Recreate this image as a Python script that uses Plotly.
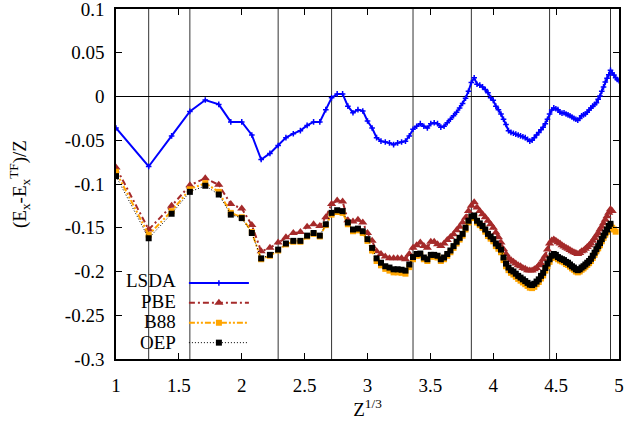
import numpy as np
import plotly.graph_objects as go

# Exchange energy relative to Thomas-Fermi, per electron, vs Z^(1/3)
lsda = [-0.036, -0.080, -0.045, -0.017, -0.004, -0.009, -0.029, -0.029, -0.044, -0.072,
        -0.065, -0.056, -0.047, -0.0425, -0.039, -0.033, -0.029, -0.029, -0.015, -0.0015,
        0.003, 0.003, -0.011, -0.0185, -0.015, -0.0165, -0.028, -0.036, -0.047, -0.051,
        -0.052, -0.053, -0.055, -0.053, -0.052, -0.051, -0.045, -0.0375, -0.034, -0.031,
        -0.034, -0.036, -0.031, -0.030, -0.031, -0.035, -0.034, -0.030, -0.026, -0.022,
        -0.018, -0.013, -0.008, -0.002, 0.006, 0.016, 0.0215, 0.014, 0.013, 0.011,
        0.008, 0.0044, -0.0013, -0.0044, -0.011, -0.015, -0.020, -0.026, -0.032, -0.039,
        -0.041, -0.042, -0.043, -0.044, -0.045, -0.046, -0.047, -0.049, -0.051, -0.050,
        -0.047, -0.044, -0.041, -0.038, -0.035, -0.031, -0.026, -0.020, -0.0155, -0.013,
        -0.014, -0.015, -0.018, -0.019, -0.0185, -0.020, -0.021, -0.022, -0.0235, -0.025,
        -0.026, -0.027, -0.025, -0.022, -0.021, -0.020, -0.018, -0.0155, -0.013, -0.011,
        -0.009, -0.007, -0.003, 0.0006, 0.006, 0.011, 0.0165, 0.021, 0.025, 0.030,
        0.027, 0.0245, 0.0215, 0.0195, 0.018]

pbe = [-0.081, -0.152, -0.125, -0.1015, -0.0935, -0.101, -0.123, -0.128, -0.147, -0.177,
       -0.173, -0.167, -0.161, -0.156, -0.155, -0.149, -0.146, -0.148, -0.138, -0.123,
       -0.119, -0.120, -0.1415, -0.143, -0.141, -0.144, -0.156, -0.165, -0.177, -0.180,
       -0.183, -0.185, -0.185, -0.185, -0.185, -0.186, -0.180, -0.173, -0.170, -0.167,
       -0.171, -0.173, -0.166, -0.166, -0.169, -0.171, -0.168, -0.164, -0.1605, -0.1575,
       -0.153, -0.149, -0.144, -0.1385, -0.131, -0.125, -0.121, -0.127, -0.131, -0.1345,
       -0.138, -0.142, -0.146, -0.150, -0.1555, -0.161, -0.167, -0.1745, -0.180, -0.185,
       -0.187, -0.189, -0.191, -0.193, -0.194, -0.196, -0.197, -0.1985, -0.199, -0.199,
       -0.1975, -0.196, -0.193, -0.191, -0.186, -0.182, -0.175, -0.168, -0.1645, -0.1635,
       -0.165, -0.1665, -0.168, -0.170, -0.1715, -0.173, -0.174, -0.1755, -0.177, -0.178,
       -0.179, -0.180, -0.179, -0.177, -0.176, -0.174, -0.172, -0.170, -0.168, -0.165,
       -0.162, -0.159, -0.156, -0.152, -0.149, -0.145, -0.141, -0.137, -0.133, -0.129,
       -0.131]

b88 = [-0.086, -0.158, -0.131, -0.106, -0.099, -0.109, -0.133, -0.138, -0.155, -0.186,
       -0.182, -0.176, -0.169, -0.166, -0.166, -0.160, -0.157, -0.160, -0.147, -0.135,
       -0.132, -0.133, -0.146, -0.154, -0.153, -0.156, -0.165, -0.176, -0.188, -0.193,
       -0.197, -0.199, -0.201, -0.201, -0.2015, -0.2025, -0.195, -0.186, -0.182, -0.1815,
       -0.186, -0.188, -0.183, -0.183, -0.184, -0.188, -0.186, -0.182, -0.178, -0.173,
       -0.168, -0.1635, -0.159, -0.152, -0.144, -0.139, -0.138, -0.144, -0.147, -0.150,
       -0.1545, -0.1595, -0.1625, -0.1655, -0.171, -0.174, -0.178, -0.187, -0.194, -0.1985,
       -0.2015, -0.2035, -0.206, -0.2085, -0.2105, -0.2125, -0.2145, -0.2165, -0.2185, -0.219,
       -0.2175, -0.2145, -0.212, -0.208, -0.2045, -0.199, -0.194, -0.189, -0.1845, -0.1825,
       -0.1835, -0.186, -0.1875, -0.1885, -0.1895, -0.1915, -0.1925, -0.1945, -0.1965, -0.198,
       -0.200, -0.201, -0.200, -0.198, -0.1965, -0.1945, -0.1925, -0.1905, -0.188, -0.1845,
       -0.181, -0.177, -0.1735, -0.170, -0.1655, -0.1615, -0.158, -0.1545, -0.150, -0.1475,
       -0.150, -0.152, -0.1545]

oep = [-0.091, -0.162, -0.134, -0.109, -0.102, -0.112, -0.135, -0.139, -0.156, -0.185,
       -0.181, -0.175, -0.168, -0.165, -0.165, -0.159, -0.156, -0.159, -0.146, -0.133,
       -0.130, -0.131, -0.144, -0.152, -0.151, -0.154, -0.163, -0.173, -0.185, -0.190,
       -0.194, -0.1955, -0.1975, -0.1975, -0.198, -0.199, -0.192, -0.1835, -0.180, -0.1795,
       -0.184, -0.186, -0.181, -0.181, -0.182, -0.186, -0.184, -0.180, -0.176, -0.171,
       -0.166, -0.1615, -0.157, -0.150, -0.142, -0.137, -0.136, -0.142, -0.145, -0.148,
       -0.152, -0.157, -0.160, -0.163, -0.168, -0.171, -0.175, -0.184, -0.191, -0.1955,
       -0.1985, -0.200, -0.2025, -0.205, -0.207, -0.209, -0.211, -0.213, -0.215, -0.2155,
       -0.214, -0.2115, -0.209, -0.205, -0.2015, -0.196, -0.191, -0.186, -0.182, -0.180,
       -0.181, -0.1835, -0.185, -0.186, -0.187, -0.189, -0.190, -0.192, -0.194, -0.1955,
       -0.1975, -0.1985, -0.1975, -0.1955, -0.194, -0.192, -0.190, -0.188, -0.1855, -0.182,
       -0.1785, -0.1745, -0.171, -0.1675, -0.163, -0.159, -0.1555, -0.152, -0.148, -0.1455]

# closed s-shell atomic numbers marked by vertical guides
shell_z = [2, 4, 12, 20, 38, 56, 88, 120]

x_ticks = [1, 1.5, 2, 2.5, 3, 3.5, 4, 4.5, 5]
x_labels = ["1", "1.5", "2", "2.5", "3", "3.5", "4", "4.5", "5"]
y_ticks = [0.1, 0.05, 0, -0.05, -0.1, -0.15, -0.2, -0.25, -0.3]
y_labels = ["0.1", "0.05", "0", "-0.05", "-0.1", "-0.15", "-0.2", "-0.25", "-0.3"]

names = ["LSDA", "PBE", "B88", "OEP"]
colors = ["#0000ff", "#a52a2a", "#ffa500", "#000000"]


def zcube(vals):
    z = np.arange(1, len(vals) + 1)
    return np.cbrt(z)


FONT = "Liberation Serif"

fig = go.Figure()

styles = [
    dict(line=dict(color=colors[0], width=2), marker=dict(symbol="cross-thin", size=4,
         line=dict(color=colors[0], width=1.5))),
    dict(line=dict(color=colors[1], width=2, dash="6px,3px,2px,3px"),
         marker=dict(symbol="triangle-up", size=8, color=colors[1])),
    dict(line=dict(color=colors[2], width=2, dash="6px,2px,2px,2px,2px,2px"),
         marker=dict(symbol="square", size=6, color=colors[2])),
    dict(line=dict(color=colors[3], width=1, dash="1px,2px"),
         marker=dict(symbol="square", size=6, color=colors[3])),
]

for vals, name, st in zip([lsda, pbe, b88, oep], names, styles):
    fig.add_trace(go.Scatter(x=zcube(vals), y=vals, mode="lines+markers", name=" ",
                             legendgroup=name, hovertext=name, **st))

# vertical guides at closed-shell elements
for z in shell_z:
    xv = float(np.cbrt(z))
    fig.add_shape(type="line", xref="x", yref="paper", x0=xv, x1=xv, y0=0, y1=1,
                  line=dict(color="#333333", width=1), layer="below")

# legend labels, right-aligned to the left of the key samples
legend_y = [0.223, 0.164, 0.106, 0.047]
for name, ly in zip(names, legend_y):
    fig.add_annotation(text=name, xref="paper", yref="paper", x=0.123, y=ly,
                       xanchor="right", yanchor="middle", showarrow=False,
                       font=dict(family=FONT, size=19, color="black"))

axis_common = dict(showline=True, linecolor="black", linewidth=1.5, mirror="ticks",
                   ticks="inside", ticklen=6, tickwidth=1, tickcolor="black",
                   showgrid=False, ticklabeloverflow="allow", automargin=False,
                   tickfont=dict(family=FONT, size=19, color="black"))

fig.update_layout(
    width=626, height=428,
    margin=dict(l=116, r=7, t=9, b=69),
    plot_bgcolor="white", paper_bgcolor="white",
    font=dict(family=FONT, size=19, color="black"),
    showlegend=True,
    legend=dict(x=0.135, y=0.26, xanchor="left", yanchor="top", bgcolor="rgba(0,0,0,0)",
                font=dict(size=13), itemwidth=60, tracegroupgap=0),
    xaxis=dict(range=[1, 5.00001], tickvals=x_ticks, ticktext=x_labels, zeroline=False,
               title=dict(text="Z<sup>1/3</sup>", font=dict(family=FONT, size=19), standoff=6),
               ticklabelstandoff=8, **axis_common),
    yaxis=dict(range=[-0.30001, 0.10001], tickvals=y_ticks, ticktext=y_labels,
               zeroline=True, zerolinecolor="black", zerolinewidth=1,
               title=dict(text="(E<sub>x</sub>-E<sub>x</sub><sup>TF</sup>)/Z",
                          font=dict(family=FONT, size=19), standoff=33),
               ticklabelstandoff=6, **axis_common),
)

fig.write_html("out.html")
